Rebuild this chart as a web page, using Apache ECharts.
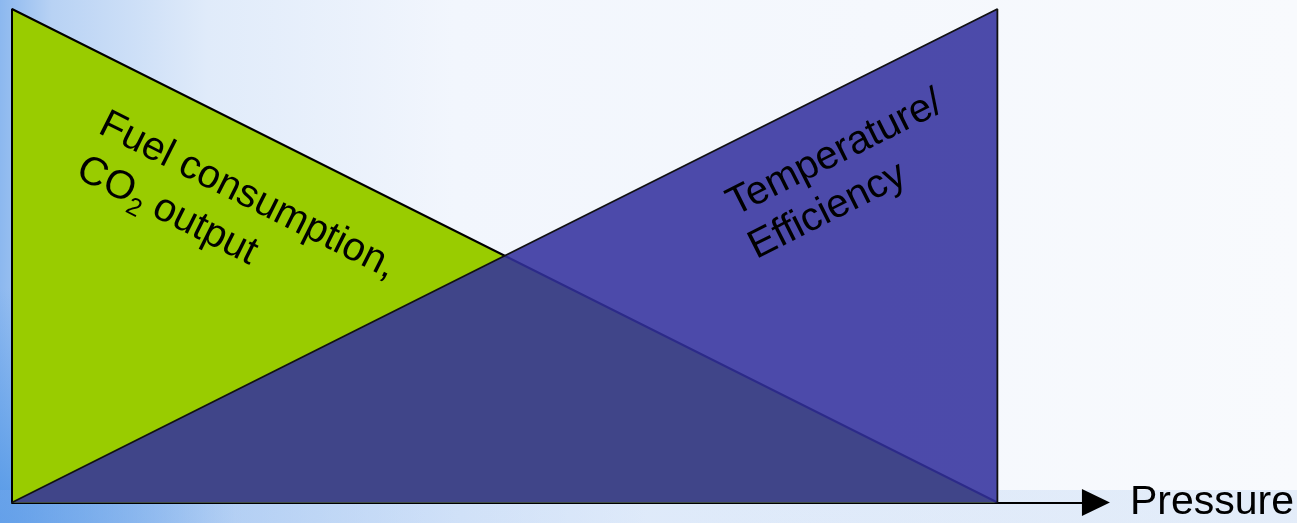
<!DOCTYPE html>
<html>
<head>
<meta charset="utf-8">
<script src="https://cdn.jsdelivr.net/npm/echarts@6/dist/echarts.min.js"></script>
<style>
html,body{margin:0;padding:0;background:#f5f8fc;}
#c{width:1297px;height:523px;}
</style>
</head>
<body>
<div id="c"></div>
<script>
// Data (pressure 0..100, relative level 0..100)
const fuelX = [0, 0, 100];
const fuelY = [0, 100, 0];
const tempX = [0, 100, 100];
const tempY = [0, 100, 0];
const axisMax = 110;
const fuelLabel = ['Fuel consumption,', 'CO', '2', ' output'];
const tempLabel = ['Temperature/', 'Efficiency'];
const axisName = 'Pressure';

const fuelData = fuelX.map((x, i) => [x, fuelY[i]]);
const tempData = tempX.map((x, i) => [x, tempY[i]]);

const FONT = '"Liberation Sans", Arial, sans-serif';
const chart = echarts.init(document.getElementById('c'), null, {renderer: 'canvas'});

const option = {
  animation: false,
  backgroundColor: '#f5f8fc',
  grid: {left: 12, top: 9, width: 1087, height: 496.5, containLabel: false},
  xAxis: {
    type: 'value', min: 0, max: axisMax,
    axisLine: {show: true, symbol: ['none', 'triangle'], symbolSize: [27, 28],
      lineStyle: {color: '#000', width: 2}},
    axisTick: {show: false}, axisLabel: {show: false}, splitLine: {show: false},
    name: axisName, nameLocation: 'end', nameGap: 34,
    nameTextStyle: {fontSize: 41, fontFamily: FONT, color: '#000', verticalAlign: 'middle'}
  },
  yAxis: {type: 'value', min: 0, max: 100, show: false},
  graphic: [
    {type: 'rect', z: -10, silent: true, shape: {x: 0, y: 0, width: 1297, height: 523},
      style: {fill: new echarts.graphic.LinearGradient(0, 0, 1, 0, [
        {offset: 0, color: '#8cb8ef'},
        {offset: 0.04, color: '#b8d2f4'},
        {offset: 0.16, color: '#e0ebfa'},
        {offset: 0.35, color: '#f2f6fd'},
        {offset: 1, color: '#f8fafd'}])}},
    {type: 'rect', z: -9, silent: true, shape: {x: 0, y: 0, width: 1297, height: 523},
      style: {fill: new echarts.graphic.RadialGradient(0, 1, 0.45, [
        {offset: 0, color: 'rgba(80,150,230,0.9)'},
        {offset: 1, color: 'rgba(80,150,230,0)'}])}},
    {type: 'rect', z: -8, silent: true, shape: {x: 0, y: 490, width: 1297, height: 33},
      style: {fill: new echarts.graphic.LinearGradient(0, 0, 1, 0, [
        {offset: 0, color: 'rgba(110,165,235,0.6)'},
        {offset: 0.5, color: 'rgba(160,195,240,0.25)'},
        {offset: 1, color: 'rgba(190,212,242,0.35)'}])}},
    {type: 'text', z: 50, x: 113, y: 100, rotation: -0.466,
      style: {
        text: '{a|' + fuelLabel[0] + '}\n{a|' + fuelLabel[1] + '}{s|' + fuelLabel[2] + '}{a|' + fuelLabel[3] + '}',
        fill: '#000', align: 'left', verticalAlign: 'top',
        rich: {
          a: {fontSize: 40, fontFamily: FONT, lineHeight: 50, fill: '#000'},
          s: {fontSize: 25, fontFamily: FONT, lineHeight: 25, verticalAlign: 'bottom', fill: '#000'}
        }
      }},
    {type: 'text', z: 50, x: 719, y: 185, rotation: 0.466,
      style: {
        text: '{a|' + tempLabel[0] + '}\n{a|' + tempLabel[1] + '}',
        fill: '#000', align: 'left', verticalAlign: 'top',
        rich: {a: {fontSize: 40, fontFamily: FONT, lineHeight: 48, fill: '#000'}}
      }}
  ],
  series: [
    {type: 'line', name: 'Fuel consumption, CO2 output', data: fuelData, z: 2,
      showSymbol: false, symbol: 'none', clip: false,
      lineStyle: {color: '#000', width: 2},
      areaStyle: {color: '#99cc00', opacity: 1}},
    {type: 'line', name: 'Temperature/Efficiency', data: tempData, z: 3,
      showSymbol: false, symbol: 'none', clip: false,
      lineStyle: {color: '#111', width: 1.8},
      areaStyle: {color: '#32309d', opacity: 0.87}}
  ]
};
chart.setOption(option);
</script>
</body>
</html>
